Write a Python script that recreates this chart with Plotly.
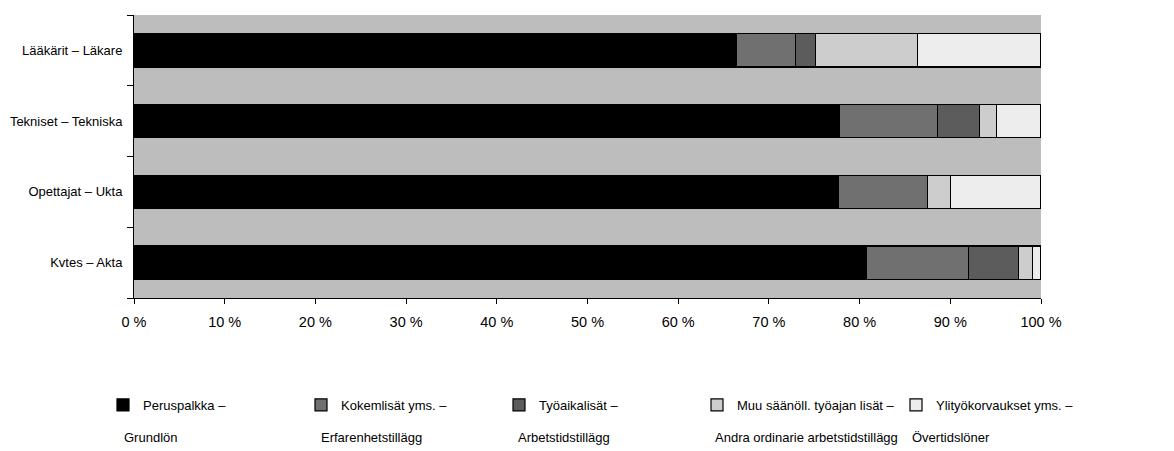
import plotly.graph_objects as go

categories = ["Kvtes – Akta", "Opettajat – Ukta", "Tekniset – Tekniska", "Lääkärit – Läkare"]

series_names = [
    "Peruspalkka –",
    "Kokemlisät yms. –",
    "Työaikalisät –",
    "Muu säänöll. työajan lisät –",
    "Ylityökorvaukset yms. –",
]
series_names_sv = [
    "Grundlön",
    "Erfarenhetstillägg",
    "Arbetstidstillägg",
    "Andra ordinarie arbetstidstillägg",
    "Övertidslöner",
]

peruspalkka = [80.7, 77.7, 77.8, 66.4]
kokemlisat = [11.3, 9.8, 10.8, 6.5]
tyoaikalisat = [5.5, 0.0, 4.6, 2.2]
muu_lisat = [1.6, 2.5, 1.9, 11.3]
ylityo = [0.9, 10.0, 4.9, 13.6]

series_values = [peruspalkka, kokemlisat, tyoaikalisat, muu_lisat, ylityo]
colors = ["#000000", "#707070", "#5c5c5c", "#cdcdcd", "#ededed"]

tick_vals = [0, 10, 20, 30, 40, 50, 60, 70, 80, 90, 100]
tick_text = ["0 %", "10 %", "20 %", "30 %", "40 %", "50 %", "60 %", "70 %", "80 %", "90 %", "100 %"]

# layout geometry (figure pixels)
W, H = 1174, 451
ML, MR, MT, MB = 126, 141, 7, 161
PW = W - ML - MR
PH = H - MT - MB
legend_step = 197
legend_x0 = 95           # left of first legend box, figure px
legend2_x = 888          # left of second legend box, figure px
legend_mid_y = 397       # first legend line centre, figure px
square_left0 = 114       # left of first legend column, figure px
second_line_y = 429      # second legend line centre, figure px

fig = go.Figure()
for i, (name, sv, vals, col) in enumerate(zip(series_names, series_names_sv, series_values, colors)):
    fig.add_trace(go.Bar(
        y=categories, x=vals, name=name, orientation="h",
        marker=dict(color=col, line=dict(color="#000000", width=1.2)),
        hovertemplate=name + " " + sv + ": %{x:.1f} %<extra></extra>",
        legend="legend" if i < 4 else "legend2",
    ))

annotations = []
for i, sv in enumerate(series_names_sv):
    fx = square_left0 + i * legend_step
    annotations.append(dict(
        text=sv, showarrow=False, xref="paper", yref="paper",
        x=(fx - ML) / PW, y=(H - MB - second_line_y) / PH,
        xanchor="left", yanchor="middle", font=dict(size=13),
    ))

legend_common = dict(
    orientation="h", traceorder="normal",
    xref="container", yref="container",
    xanchor="left", y=1 - legend_mid_y / H, yanchor="middle",
    entrywidth=legend_step - 44, entrywidthmode="pixels",
    bgcolor="rgba(0,0,0,0)",
    font=dict(size=13), itemclick=False, itemdoubleclick=False,
)

fig.update_layout(
    width=W, height=H,
    barmode="stack", bargap=0.53,
    paper_bgcolor="#ffffff", plot_bgcolor="#bdbdbd",
    margin=dict(l=ML, r=MR, t=MT, b=MB, autoexpand=False),
    font=dict(family="Liberation Sans, Arial, sans-serif", color="#000000"),
    showlegend=True,
    legend=dict(x=legend_x0 / W, **legend_common),
    legend2=dict(x=legend2_x / W, **legend_common),
    annotations=annotations,
)
fig.update_xaxes(
    range=[0, 100], tickvals=tick_vals, ticktext=tick_text,
    showgrid=False, zeroline=False,
    showline=True, linecolor="#000000", linewidth=1,
    ticks="outside", ticklen=5, tickcolor="#000000",
    tickfont=dict(size=14.5), ticklabelstandoff=6,
)
fig.update_yaxes(
    showgrid=False, zeroline=False,
    showline=True, linecolor="#000000", linewidth=1,
    ticks="outside", ticklen=6, tickcolor="#000000", tickson="boundaries",
    tickfont=dict(size=13), ticklabelstandoff=8,
)

fig.write_html("out.html")
